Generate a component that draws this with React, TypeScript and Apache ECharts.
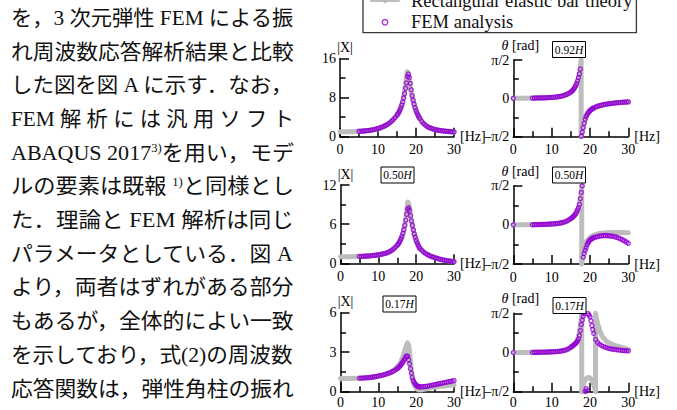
import React, { useEffect, useRef } from 'react';
import * as echarts from 'echarts';

const SERIF = "'Liberation Serif', 'Times New Roman', serif";
const JP_FONT = "'Liberation Serif', 'Noto Sans CJK JP', sans-serif";
const PURPLE = '#9400d3';
const GRAY = '#bdbdbd';
const HALF_PI = Math.PI / 2;

const THEORY_NAME = 'Rectangular elastic bar theory';
const FEM_NAME = 'FEM analysis';

const HEIGHT_TAGS = ['0.92', '0.50', '0.17'];
const X_AXIS_MAX = 30;
const X_TICK_STEP = 10;
const AMP_AXIS_MAX = [16, 12, 6];

// Body text (Japanese), '^' marks a superscript segment
const TEXT_LINES: string[][] = [
  ['を，3 次元弾性 FEM による振'],
  ['れ周波数応答解析結果と比較'],
  ['した図を図 A に示す．なお，'],
  ['FEM 解 析 に は 汎 用 ソ フ ト'],
  ['ABAQUS 2017', '^3)', 'を用い，モデ'],
  ['ルの要素は既報 ', '^1)', 'と同様とし'],
  ['た．理論と FEM 解析は同じ'],
  ['パラメータとしている．図 A'],
  ['より，両者はずれがある部分'],
  ['もあるが，全体的によい一致'],
  ['を示しており，式(2)の周波数'],
  ['応答関数は，弾性角柱の振れ'],
];

// FEM sampling frequencies [Hz]
const FEM_FREQ = [
  5, 5.5, 6, 6.5, 7, 7.5, 8, 8.5, 9, 9.5, 10, 10.5, 11, 11.5, 12, 12.5, 13, 13.5, 14, 14.5, 15,
  15.25, 15.5, 15.75, 16, 16.25, 16.5, 16.75, 17, 17.25, 17.5, 17.75, 18, 18.25, 18.5, 18.75, 19, 19.25, 19.5, 19.75, 20, 20.25, 20.5, 20.75, 21,
  21.5, 22, 22.5, 23, 23.5, 24, 24.5, 25, 25.5, 26, 26.5, 27, 27.5, 28, 28.5, 29, 29.5, 30,
];
const FEM_STATIC_FREQ = 0;

// FEM |X|
const FEM_X_092 = [
  1.10, 1.12, 1.15, 1.18, 1.22, 1.27, 1.32, 1.40, 1.48, 1.58, 1.70, 1.82, 1.95, 2.12, 2.30, 2.53, 2.80, 3.12, 3.50, 3.90, 4.40,
  4.68, 5.00, 5.42, 5.90, 6.45, 7.10, 7.90, 8.80, 9.90, 11.00, 12.30, 12.80, 12.10, 10.90, 9.60, 8.40, 7.45, 6.65, 5.95, 5.35, 4.85, 4.42, 4.05, 3.72,
  3.10, 2.70, 2.35, 2.05, 1.88, 1.72, 1.58, 1.46, 1.38, 1.31, 1.25, 1.20, 1.15, 1.11, 1.08, 1.05, 1.02, 1.00,
];
const FEM_X_050 = [
  1.05, 1.06, 1.07, 1.09, 1.11, 1.13, 1.16, 1.19, 1.22, 1.26, 1.30, 1.35, 1.41, 1.48, 1.56, 1.66, 1.80, 1.98, 2.20, 2.45, 2.75,
  2.95, 3.18, 3.45, 3.78, 4.15, 4.60, 5.15, 5.80, 6.60, 7.50, 8.30, 8.50, 8.10, 7.30, 6.50, 5.80, 5.10, 4.50, 4.00, 3.55, 3.15, 2.80, 2.50, 2.25,
  2.00, 1.70, 1.50, 1.33, 1.18, 1.05, 0.95, 0.85, 0.76, 0.68, 0.60, 0.53, 0.47, 0.42, 0.37, 0.33, 0.29, 0.25,
];
const FEM_X_017 = [
  1.02, 1.03, 1.04, 1.05, 1.06, 1.07, 1.09, 1.11, 1.13, 1.16, 1.19, 1.22, 1.25, 1.29, 1.33, 1.38, 1.43, 1.49, 1.56, 1.65, 1.75,
  1.81, 1.88, 1.96, 2.05, 2.15, 2.26, 2.38, 2.50, 2.63, 2.72, 2.68, 2.42, 2.12, 1.75, 1.40, 1.08, 0.85, 0.70, 0.58, 0.50, 0.44, 0.40, 0.38, 0.37,
  0.37, 0.38, 0.40, 0.42, 0.45, 0.48, 0.51, 0.54, 0.57, 0.60, 0.63, 0.66, 0.69, 0.72, 0.75, 0.78, 0.81, 0.84,
];

// FEM theta [rad]; first value is the static (0 Hz) point
const FEM_THETA_092 = [
  0,
  0.010, 0.012, 0.014, 0.016, 0.018, 0.020, 0.023, 0.026, 0.030, 0.034, 0.038, 0.044, 0.052, 0.062, 0.074, 0.090, 0.110, 0.135, 0.165, 0.205, 0.255,
  0.29, 0.33, 0.38, 0.44, 0.51, 0.60, 0.71, 0.85, 1.00, 1.20, -1.55, -1.38, -1.20, -1.02, -0.86, -0.75, -0.67, -0.60, -0.55, -0.50, -0.47, -0.44, -0.41, -0.39,
  -0.35, -0.32, -0.30, -0.28, -0.26, -0.245, -0.23, -0.22, -0.21, -0.20, -0.19, -0.18, -0.175, -0.17, -0.16, -0.155, -0.15, -0.145,
];
const FEM_THETA_050 = [
  0,
  0.005, 0.007, 0.009, 0.011, 0.013, 0.016, 0.019, 0.022, 0.026, 0.030, 0.035, 0.041, 0.048, 0.057, 0.068, 0.082, 0.100, 0.125, 0.155, 0.200, 0.250,
  0.28, 0.31, 0.35, 0.39, 0.44, 0.52, 0.60, 0.68, 0.82, 1.05, 1.30, 1.56, -1.30, -1.15, -1.02, -0.92, -0.80, -0.72, -0.66, -0.61, -0.58, -0.55, -0.53, -0.51,
  -0.49, -0.47, -0.45, -0.44, -0.43, -0.43, -0.43, -0.44, -0.45, -0.46, -0.48, -0.50, -0.53, -0.56, -0.60, -0.64, -0.69, -0.74,
];
const FEM_THETA_017 = [
  0,
  0.005, 0.006, 0.007, 0.008, 0.010, 0.012, 0.014, 0.016, 0.019, 0.022, 0.026, 0.030, 0.035, 0.041, 0.050, 0.060, 0.075, 0.095, 0.120, 0.160, 0.210,
  0.24, 0.27, 0.30, 0.33, 0.36, 0.40, 0.46, 0.54, 0.68, 0.88, 1.12, 1.30, 1.45, 1.56, -1.56, -1.45, -1.53, 1.56, 1.50, 1.43, 1.27, 1.08, 0.92, 0.76,
  0.52, 0.40, 0.33, 0.28, 0.24, 0.21, 0.18, 0.16, 0.14, 0.13, 0.12, 0.11, 0.10, 0.09, 0.08, 0.075, 0.07, 0.065,
];

// Theory curves [Hz, value]
const THEORY_X_092 = [
  [0, 1.0], [2, 1.02], [4, 1.07], [6, 1.15], [8, 1.3], [10, 1.62], [11, 1.88], [12, 2.25], [13, 2.75], [14, 3.45],
  [15, 4.4], [15.5, 5.0], [16, 5.9], [16.5, 7.2], [17, 9.2], [17.25, 10.6], [17.5, 12.2], [17.7, 13.3], [17.9, 13.0],
  [18.1, 12.1], [18.4, 10.6], [18.75, 9.1], [19, 8.1], [19.5, 6.5], [20, 5.3], [20.5, 4.4], [21, 3.7], [22, 2.7],
  [23, 2.05], [24, 1.7], [25, 1.45], [26, 1.3], [27, 1.18], [28, 1.08], [29, 1.0], [30, 0.95],
];
const THEORY_X_050 = [
  [0, 1.0], [2, 1.01], [4, 1.04], [6, 1.08], [8, 1.15], [10, 1.28], [12, 1.55], [13, 1.78], [14, 2.15], [15, 2.75],
  [15.5, 3.15], [16, 3.75], [16.5, 4.6], [17, 5.9], [17.3, 7.0], [17.55, 8.4], [17.8, 9.4], [18.05, 9.0], [18.3, 8.1],
  [18.6, 7.0], [19, 5.8], [19.5, 4.5], [20, 3.5], [20.5, 2.8], [21, 2.25], [22, 1.7], [23, 1.32], [24, 1.05],
  [25, 0.85], [26, 0.68], [27, 0.53], [28, 0.42], [29, 0.33], [30, 0.25],
];
const THEORY_X_017 = [
  [0, 1.0], [2, 1.01], [4, 1.03], [6, 1.05], [8, 1.09], [10, 1.18], [12, 1.33], [13, 1.45], [14, 1.62], [15, 1.88],
  [15.5, 2.05], [16, 2.3], [16.5, 2.65], [17, 3.1], [17.4, 3.5], [17.75, 3.7], [18, 3.55], [18.25, 3.0], [18.5, 2.2],
  [18.75, 1.5], [19, 1.0], [19.5, 0.5], [20, 0.25], [20.5, 0.15], [21, 0.13], [21.5, 0.15], [22, 0.18], [23, 0.24],
  [24, 0.3], [25, 0.35], [26, 0.39], [27, 0.42], [28, 0.45], [29, 0.48], [30, 0.5],
];
const THEORY_THETA_092 = [
  [0, 0], [3, 0.005], [6, 0.013], [9, 0.028], [11, 0.05], [12, 0.072], [13, 0.108], [14, 0.162], [15, 0.25],
  [15.5, 0.32], [16, 0.43], [16.5, 0.58], [17, 0.82], [17.3, 1.05], [17.5, 1.25], [17.62, 1.45], [17.7, 1.5708],
  [17.7, -1.5708], [17.8, -1.45], [18, -1.3], [18.3, -1.1], [18.7, -0.85], [19.2, -0.66], [19.7, -0.55],
  [20.5, -0.45], [21.5, -0.37], [23, -0.29], [25, -0.22], [27, -0.18], [30, -0.15],
];
const THEORY_THETA_050 = [
  [0, 0], [3, 0.004], [6, 0.01], [9, 0.024], [11, 0.045], [12, 0.065], [13, 0.097], [14, 0.15], [15, 0.24],
  [15.5, 0.3], [16, 0.38], [16.5, 0.5], [17, 0.68], [17.4, 0.95], [17.65, 1.2], [17.8, 1.45], [17.85, 1.5708],
  [17.85, -1.5708], [18.05, -1.35], [18.3, -1.1], [18.7, -0.85], [19.2, -0.65], [20, -0.5], [21, -0.41],
  [22, -0.36], [24, -0.32], [26, -0.31], [28, -0.31], [30, -0.32],
];
const THEORY_THETA_017 = [
  [0, 0], [3, 0.004], [6, 0.008], [9, 0.018], [11, 0.033], [12, 0.045], [13, 0.07], [14, 0.11], [15, 0.19],
  [15.5, 0.25], [16, 0.33], [16.5, 0.44], [17, 0.62], [17.35, 0.9], [17.6, 1.2], [17.78, 1.45], [17.85, 1.5708],
  [17.85, -1.5708], [18.2, -1.3], [18.6, -1.12], [19.2, -1.02], [19.8, -1.0], [20.4, -1.08], [20.9, -1.25],
  [21.3, -1.45], [21.45, -1.5708], [21.45, 1.5708], [21.7, 1.35], [22, 1.15], [22.6, 0.85], [23.2, 0.65],
  [24.4, 0.43], [26, 0.3], [27.8, 0.22], [30, 0.12],
];

// Layout
const GRIDS = [
  { left: 340, top: 58.5, width: 114, height: 78.2 },
  { left: 513.3, top: 60, width: 115, height: 76.7 },
  { left: 340.5, top: 185, width: 113.5, height: 78.3 },
  { left: 513.3, top: 185.7, width: 115, height: 78.3 },
  { left: 340.5, top: 312.7, width: 113.5, height: 79 },
  { left: 513.3, top: 313.3, width: 115, height: 78.4 },
];
const X_LABEL_MARGIN = [6, 6, 6, 6, 4, 4];
const TAG_BOXES = [
  { tag: 0, x: 552.5, y: 41.5 },
  { tag: 1, x: 381, y: 167 },
  { tag: 1, x: 552.5, y: 167 },
  { tag: 2, x: 383, y: 296 },
  { tag: 2, x: 553, y: 297.5 },
];
const TEXT_LEFT = 11;
const TEXT_WIDTH = 283;
const TEXT_TOP = 18;
const TEXT_GAP = 33.7;
const TEXT_SIZE = 21;
const SUP_SIZE = 12;

const AX = { color: '#000', width: 1.5 };

function makeX(gi: number) {
  return {
    type: 'value', gridIndex: gi, min: 0, max: X_AXIS_MAX, interval: X_TICK_STEP,
    name: '[Hz]', nameLocation: 'end', nameGap: 6, nameMoveOverlap: false,
    nameTextStyle: { fontFamily: SERIF, fontSize: 14, color: '#000', padding: [0, 0, 9, 0] },
    axisLine: { show: true, onZero: false, lineStyle: AX },
    axisTick: { show: true, inside: true, length: 9, lineStyle: AX },
    minorTick: { show: true, splitNumber: 2, length: 5.5, lineStyle: AX },
    axisLabel: { show: true, fontFamily: SERIF, fontSize: 14, color: '#000', margin: X_LABEL_MARGIN[gi] },
    splitLine: { show: false }, minorSplitLine: { show: false },
  };
}
function makeAmpY(gi: number, max: number) {
  return {
    type: 'value', gridIndex: gi, min: 0, max, interval: max / 2,
    name: '|X|', nameLocation: 'end', nameGap: 4, nameMoveOverlap: false,
    nameTextStyle: { fontFamily: SERIF, fontSize: 14, color: '#000', padding: [0, 0, 0, 10] },
    axisLine: { show: true, onZero: false, lineStyle: AX },
    axisTick: { show: true, inside: true, length: 9, lineStyle: AX },
    minorTick: { show: true, splitNumber: 2, length: 5.5, lineStyle: AX },
    axisLabel: { show: true, fontFamily: SERIF, fontSize: 14, color: '#000', margin: 4 },
    splitLine: { show: false }, minorSplitLine: { show: false },
  };
}
function makePhaseY(gi: number) {
  return {
    type: 'value', gridIndex: gi, min: -HALF_PI, max: HALF_PI, interval: HALF_PI,
    name: '{i|θ} [rad]', nameLocation: 'end', nameGap: 7.5, nameMoveOverlap: false,
    nameTextStyle: {
      fontFamily: SERIF, fontSize: 14, color: '#000', padding: [0, 0, 0, 14],
      rich: { i: { fontFamily: SERIF, fontSize: 14, fontStyle: 'italic', color: '#000' } },
    },
    axisLine: { show: true, onZero: false, lineStyle: AX },
    axisTick: { show: true, inside: true, length: 9, lineStyle: AX },
    minorTick: { show: true, splitNumber: 2, length: 5.5, lineStyle: AX },
    axisLabel: {
      show: true, fontFamily: SERIF, fontSize: 14, color: '#000', margin: 4,
      formatter: (v: number) => {
        const k = Math.round(v / HALF_PI);
        return k === 1 ? 'π/2' : k === 0 ? '0' : '–π/2';
      },
    },
    splitLine: { show: false }, minorSplitLine: { show: false },
  };
}

function theoryLine(data: number[][], gi: number) {
  return {
    type: 'line', name: THEORY_NAME, xAxisIndex: gi, yAxisIndex: gi, data,
    symbol: 'none', showSymbol: false, smooth: false, clip: false, silent: true, z: 1,
    itemStyle: { color: GRAY },
    lineStyle: { color: GRAY, width: 5, cap: 'round', join: 'round' },
  };
}
function femScatter(data: number[][], gi: number) {
  return {
    type: 'scatter', name: FEM_NAME, xAxisIndex: gi, yAxisIndex: gi, data,
    symbol: 'circle', symbolSize: 4, clip: false, silent: true, z: 3,
    itemStyle: { color: 'rgba(255,255,255,0)', borderColor: PURPLE, borderWidth: 1.4 },
  };
}

export default function App() {
  const ref = useRef<HTMLDivElement>(null);
  useEffect(() => {
    const el = ref.current;
    if (!el) return;
    const chart = echarts.init(el, null, { renderer: 'svg', width: 677, height: 410 });

    const ctx = document.createElement('canvas').getContext('2d') as CanvasRenderingContext2D;
    const measure = (s: string, size: number, fam: string) => {
      ctx.font = `${size}px ${fam}`;
      return ctx.measureText(s).width;
    };

    const ampFem = [FEM_X_092, FEM_X_050, FEM_X_017];
    const ampTheory = [THEORY_X_092, THEORY_X_050, THEORY_X_017];
    const phaseFem = [FEM_THETA_092, FEM_THETA_050, FEM_THETA_017];
    const phaseTheory = [THEORY_THETA_092, THEORY_THETA_050, THEORY_THETA_017];
    const phaseFreq = [FEM_STATIC_FREQ, ...FEM_FREQ];

    const xAxis: any[] = [];
    const yAxis: any[] = [];
    const series: any[] = [];
    for (let r = 0; r < 3; r++) {
      const ga = 2 * r;
      const gp = 2 * r + 1;
      xAxis.push(makeX(ga), makeX(gp));
      yAxis.push(makeAmpY(ga, AMP_AXIS_MAX[r]), makePhaseY(gp));
      series.push(theoryLine(ampTheory[r], ga));
      series.push(femScatter(FEM_FREQ.map((f, i) => [f, ampFem[r][i]]), ga));
      series.push(theoryLine(phaseTheory[r], gp));
      series.push(femScatter(phaseFreq.map((f, i) => [f, phaseFem[r][i]]), gp));
    }

    const graphics: any[] = [];
    TEXT_LINES.forEach((segs, i) => {
      let natural = 0;
      const parts = segs.map((s) => {
        if (s.startsWith('^')) {
          const t = s.slice(1);
          natural += measure(t, SUP_SIZE, SERIF);
          return `{s|${t}}`;
        }
        natural += measure(s, TEXT_SIZE, JP_FONT);
        return s;
      });
      graphics.push({
        type: 'text', x: TEXT_LEFT, y: TEXT_TOP + i * TEXT_GAP, scaleX: TEXT_WIDTH / natural, z: 10, silent: true,
        style: {
          text: parts.join(''), fontSize: TEXT_SIZE, fontFamily: JP_FONT, fill: '#111',
          align: 'left', verticalAlign: 'middle',
          rich: { s: { fontSize: SUP_SIZE, fontFamily: SERIF, fill: '#111', verticalAlign: 'top' } },
        },
      });
    });
    TAG_BOXES.forEach((b) => {
      graphics.push({
        type: 'rect', z: 20, silent: true,
        shape: { x: b.x, y: b.y, width: 33, height: 16 },
        style: { fill: '#fff', stroke: '#000', lineWidth: 1 },
      });
      graphics.push({
        type: 'text', x: b.x + 16.5, y: b.y + 8.3, z: 21, silent: true,
        style: {
          text: `${HEIGHT_TAGS[b.tag]}{i|H}`, fontSize: 11.5, fontFamily: SERIF, fill: '#000',
          align: 'center', verticalAlign: 'middle',
          rich: { i: { fontSize: 11.5, fontFamily: SERIF, fontStyle: 'italic', fill: '#000' } },
        },
      });
    });

    chart.setOption({
      animation: false,
      backgroundColor: '#fff',
      grid: GRIDS.map((g) => ({ ...g, containLabel: false, outerBoundsMode: 'none' })),
      xAxis,
      yAxis,
      series,
      legend: {
        orient: 'vertical', left: 363, top: -12.5,
        itemWidth: 28, itemHeight: 5.5, itemGap: 2.2,
        padding: [4, 4, 1, 7],
        borderColor: '#3a3a3a', borderWidth: 1.3, backgroundColor: '#fff',
        selectedMode: false,
        textStyle: { fontFamily: SERIF, fontSize: 18.5, color: '#111', padding: [0, 0, 0, 7] },
        data: [THEORY_NAME, { name: FEM_NAME, itemStyle: { borderWidth: 1.4 } }],
      },
      graphic: graphics,
    });
    return () => chart.dispose();
  }, []);
  return (
    <div
      ref={ref}
      style={{ position: 'fixed', left: 0, top: 0, width: 677, height: 410, background: '#fff' }}
    />
  );
}
